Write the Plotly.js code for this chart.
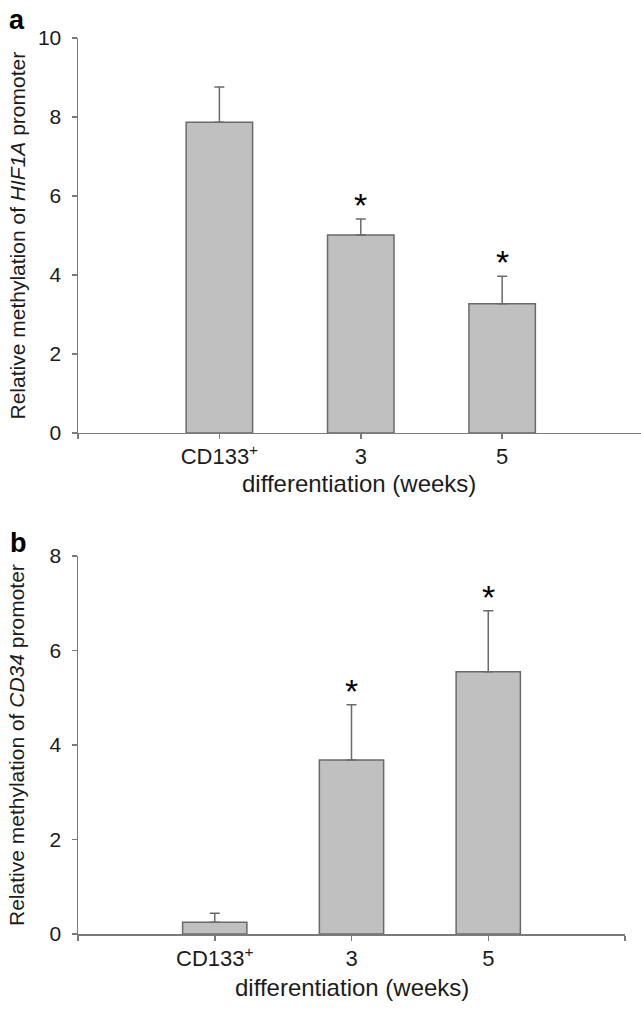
<!DOCTYPE html>
<html>
<head>
<meta charset="utf-8">
<script src="https://cdn.plot.ly/plotly-3.0.1.min.js"></script>
<style>
  html, body { margin: 0; padding: 0; background: #fff; }
  #chart { width: 641px; height: 1009px; }
</style>
</head>
<body>
<div id="chart"></div>
<script>
// ---- data ----
const categories = ["CD133<sup>+</sup>", "3", "5"];
const positions = [0, 1, 2];
const hif1aValues = [7.87, 5.01, 3.27];
const hif1aErrors = [0.89, 0.41, 0.70];
const hif1aSignificant = [false, true, true];
const cd34Values = [0.25, 3.68, 5.55];
const cd34Errors = [0.19, 1.17, 1.29];
const cd34Significant = [false, true, true];
const hif1aTicks = [0, 2, 4, 6, 8, 10];
const cd34Ticks = [0, 2, 4, 6, 8];

const FONT = "Liberation Sans, Arial, sans-serif";
const AXIS = "#7a7a7a";
const TXT = "#1c1c1c";

function barTrace(vals, errs, xa, ya) {
  return {
    type: "bar", x: positions, y: vals, xaxis: xa, yaxis: ya,
    width: 0.47,
    marker: { color: "#c0c0c0", line: { color: "#6a6a6a", width: 1.5 } },
    error_y: { type: "data", symmetric: false, array: errs,
               arrayminus: errs.map(() => 0),
               color: "#6a6a6a", thickness: 1.5, width: 5 },
    hoverinfo: "skip", showlegend: false
  };
}

const data = [
  barTrace(hif1aValues, hif1aErrors, "x", "y"),
  barTrace(cd34Values, cd34Errors, "x2", "y2")
];

const annotations = [];
function stars(vals, errs, sig, xr, yr) {
  sig.forEach((s, i) => {
    if (!s) return;
    annotations.push({
      x: positions[i], y: vals[i] + errs[i], xref: xr, yref: yr,
      text: "*", showarrow: false, yanchor: "bottom", yshift: -7,
      font: { family: FONT, size: 34, color: "#000" }
    });
  });
}
stars(hif1aValues, hif1aErrors, hif1aSignificant, "x", "y");
stars(cd34Values, cd34Errors, cd34Significant, "x2", "y2");

// axis titles
annotations.push({
  xref: "paper", yref: "y domain", x: 0, y: 0.5, xanchor: "center", yanchor: "middle",
  xshift: -61, textangle: -90, showarrow: false,
  text: "Relative methylation of <i>HIF1A</i> promoter",
  font: { family: FONT, size: 21, color: TXT }
});
annotations.push({
  xref: "paper", yref: "y2 domain", x: 0, y: 0.5, xanchor: "center", yanchor: "middle",
  xshift: -61, textangle: -90, showarrow: false,
  text: "Relative methylation of <i>CD34</i> promoter",
  font: { family: FONT, size: 21, color: TXT }
});
annotations.push({
  xref: "x", yref: "y domain", x: 0.99, y: 0, xanchor: "center", yanchor: "middle",
  yshift: -51, showarrow: false, text: "differentiation (weeks)",
  font: { family: FONT, size: 24, color: TXT }
});
annotations.push({
  xref: "x2", yref: "y2 domain", x: 1, y: 0, xanchor: "center", yanchor: "middle",
  yshift: -53, showarrow: false, text: "differentiation (weeks)",
  font: { family: FONT, size: 24, color: TXT }
});
// panel letters
annotations.push({
  xref: "paper", yref: "paper", x: 0, y: 1, xanchor: "center", yanchor: "middle",
  xshift: -61, yshift: 18, showarrow: false, text: "<b>a</b>",
  font: { family: FONT, size: 27, color: "#000" }
});
annotations.push({
  xref: "paper", yref: "y2 domain", x: 0, y: 1, xanchor: "center", yanchor: "middle",
  xshift: -60, yshift: 13, showarrow: false, text: "<b>b</b>",
  font: { family: FONT, size: 27, color: "#000" }
});

function xAxis(domain, range, standoff) {
  return {
    domain: domain, range: range,
    tickvals: positions, ticktext: categories,
    minor: { tickvals: [-1, 3], ticks: "outside", ticklen: 5, tickcolor: AXIS, tickwidth: 1.5, showgrid: false },
    showline: true, linecolor: AXIS, linewidth: 1.5,
    ticks: "outside", ticklen: 5, tickcolor: AXIS, tickwidth: 1.5,
    showgrid: false, zeroline: false, ticklabelstandoff: standoff,
    tickfont: { family: FONT, size: 22, color: TXT }, fixedrange: true
  };
}
function yAxis(domain, range, ticks, anchor) {
  return {
    domain: domain, range: range, anchor: anchor, tickvals: ticks,
    showline: true, linecolor: AXIS, linewidth: 1.5,
    ticks: "outside", ticklen: 5, tickcolor: AXIS, tickwidth: 1.5,
    showgrid: false, zeroline: false, ticklabelstandoff: 6,
    tickfont: { family: FONT, size: 21, color: TXT }, fixedrange: true
  };
}

const layout = {
  width: 641, height: 1009,
  margin: { l: 78, r: 0, t: 38, b: 75 },
  paper_bgcolor: "#fff", plot_bgcolor: "#fff",
  xaxis: Object.assign(xAxis([0, 1], [-1, 2.982], -2), { anchor: "y" }),
  yaxis: yAxis([0.5592, 1], [0, 10], hif1aTicks, "x"),
  xaxis2: Object.assign(xAxis([0, 0.9716], [-1, 3], -1), { anchor: "y2" }),
  yaxis2: yAxis([0, 0.4219], [0, 8], cd34Ticks, "x2"),
  bargap: 0.5,
  annotations: annotations
};

Plotly.newPlot("chart", data, layout, { displayModeBar: false, staticPlot: true });
</script>
</body>
</html>
